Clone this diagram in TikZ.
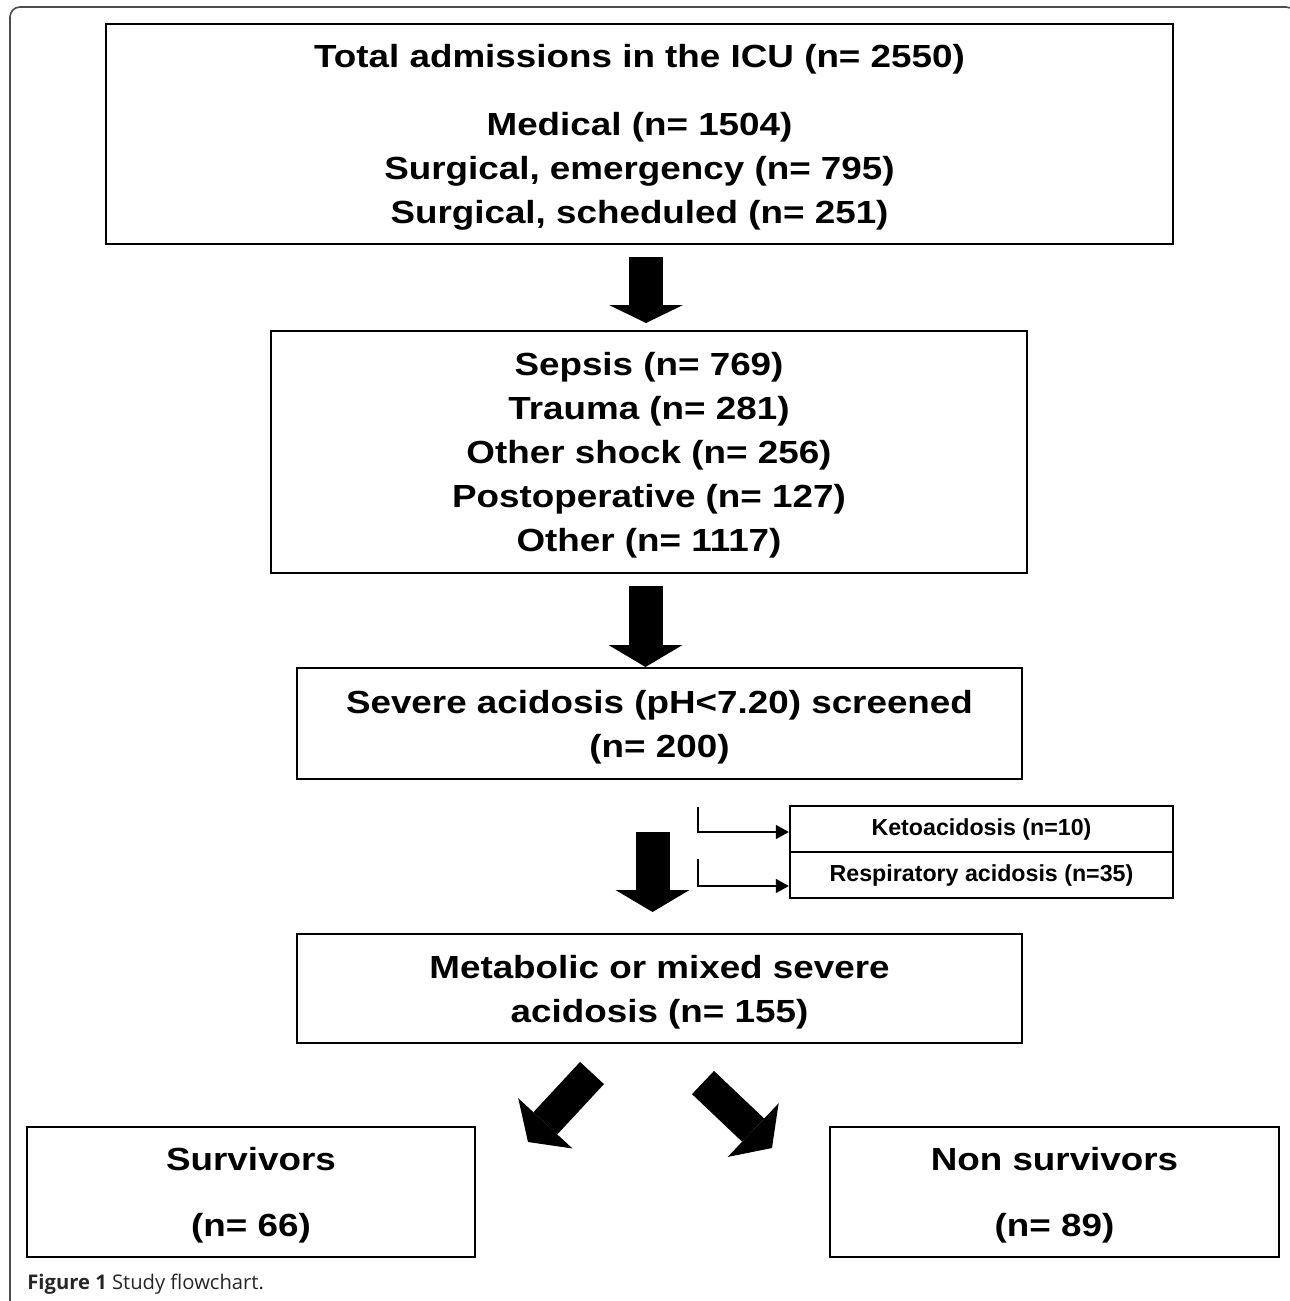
\documentclass[tikz,border=0pt]{standalone}
\usepackage{fontspec}
\setmainfont{Liberation Sans}
\newfontfamily\boxfont[FakeStretch=1.15]{Liberation Sans}
\newfontfamily\capfont{Open Sans}
\usetikzlibrary{arrows.meta}

\tikzset{
  flowbox/.style={draw, line width=1.45pt, inner sep=0pt, align=center, text depth=0pt,
    font=\boxfont\bfseries\fontsize{16pt}{22pt}\selectfont},
  sidebox/.style={draw, line width=1.2pt, inner sep=0pt,
    font=\bfseries\fontsize{11.6pt}{14pt}\selectfont},
  fatarrow/.style={line width=17pt, -{Triangle[length=#1, width=37pt, line width=0pt]}},
  thinarrow/.style={line width=0.8pt, -{Triangle[length=6.5pt, width=7pt]}}
}

\begin{document}
\begin{tikzpicture}[x=0.5pt, y=-0.5pt]
    \useasboundingbox (0,0) rectangle (1290,1301);
    \clip (0,0) rectangle (1290,1301);

    % frame of the figure
    \draw[black!70, line width=0.8pt, rounded corners=5pt] (10,1303) -- (10,7) -- (1296,7) -- (1296,1303);

    \node[flowbox, minimum width=533.5pt, minimum height=110pt] (admit) at (639.5,134)
      {Total admissions in the ICU (n= 2550)\\[12pt]
       Medical (n= 1504)\\ Surgical, emergency (n= 795)\\ Surgical, scheduled (n= 251)};
    \node[flowbox, minimum width=378pt, minimum height=121pt] (diag) at (649,452)
      {Sepsis (n= 769)\\ Trauma (n= 281)\\ Other shock (n= 256)\\ Postoperative (n= 127)\\ Other (n= 1117)};
    \node[flowbox, minimum width=362.5pt, minimum height=55.5pt] (screen) at (659.5,723.5)
      {Severe acidosis (pH<7.20) screened\\ (n= 200)};
    \node[sidebox, minimum width=191.5pt, minimum height=23pt] (keto) at (981.5,829) {Ketoacidosis (n=10)};
    \node[sidebox, minimum width=191.5pt, minimum height=23pt] (resp) at (981.5,875) {Respiratory acidosis (n=35)};
    \node[flowbox, minimum width=362.5pt, minimum height=54.5pt] (metab) at (659.5,988.5)
      {Metabolic or mixed severe\\ acidosis (n= 155)};
    \node[flowbox, minimum width=224pt, minimum height=65pt] (surv) at (251,1192)
      {Survivors\\[11pt] (n= 66)};
    \node[flowbox, minimum width=224.5pt, minimum height=65pt] (nonsurv) at (1054.5,1192)
      {Non survivors\\[11pt] (n= 89)};

    % big arrows
    \coordinate (a1s) at (646,257);   \coordinate (a1e) at (646,323);
    \coordinate (a2s) at (645.5,586); \coordinate (a2e) at (645.5,667);
    \coordinate (a3s) at (652.5,832); \coordinate (a3e) at (652.5,912);
    \coordinate (a4s) at (592,1073);  \coordinate (a4e) at (528,1142);
    \coordinate (a5s) at (703,1082.5); \coordinate (a5e) at (772,1148);
    \draw[fatarrow=9pt] (a1s) -- (a1e);
    \draw[fatarrow=11pt] (a2s) -- (a2e);
    \draw[fatarrow=11pt] (a3s) -- (a3e);
    \draw[fatarrow=12.75pt, line width=16.3pt] (a4s) -- (a4e);
    \draw[fatarrow=13pt, line width=16pt] (a5s) -- (a5e);

    % excluded patients
    \coordinate (k0) at (698,807);
    \coordinate (r0) at (698,859);
    \draw[thinarrow] (k0) |- ([yshift=-1.5pt]keto.west);
    \draw[thinarrow] (r0) |- ([yshift=-5.5pt]resp.west);

    \node[anchor=base west, inner sep=0pt, text=black!85,
      font=\capfont\fontsize{10.1pt}{12pt}\selectfont] (cap) at (27,1289)
      {\textbf{Figure 1} Study flowchart.};
\end{tikzpicture}
\end{document}
